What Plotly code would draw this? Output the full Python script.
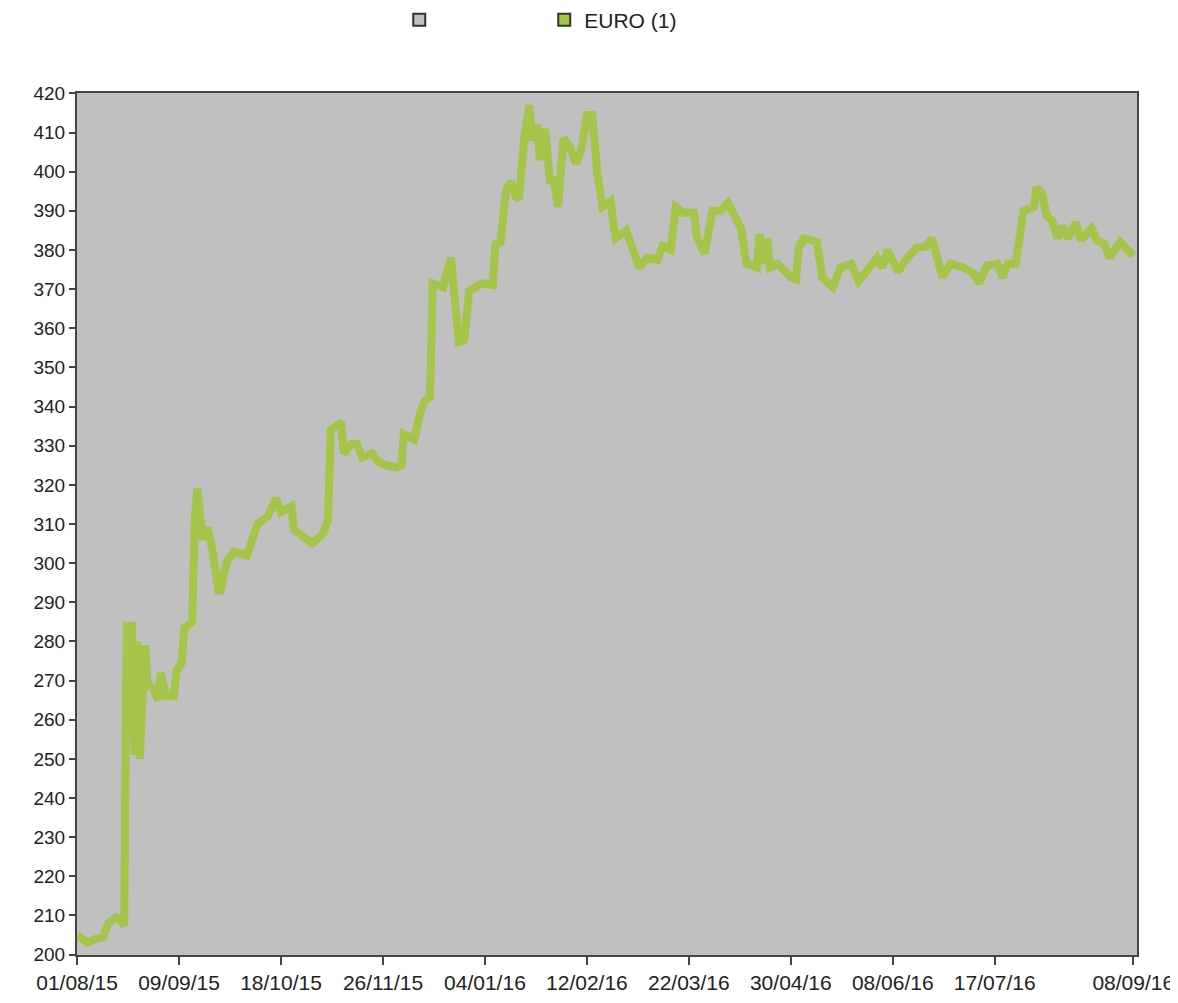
import pandas as pd
import plotly.graph_objects as go

start_date = "2015-08-01"

# days since 01/08/15
day_offset = [0, 4, 7, 10, 12, 15, 16, 18, 19, 21, 22, 23, 24, 26, 27, 29, 31, 32, 34, 37,
              38, 40, 41, 44, 45, 46, 48, 50, 52, 54, 55, 57, 60, 65, 67, 69, 73, 76, 78, 82,
              83, 87, 90, 94, 96, 97, 101, 102, 105, 107, 109, 113, 115, 118, 122, 124, 125, 129, 131, 133,
              135, 136, 140, 143, 146, 148, 150, 155, 159, 160, 162, 164, 166, 168, 169, 171, 173, 174, 176, 177,
              179, 181, 182, 184, 186, 188, 191, 193, 195, 197, 199, 201, 204, 206, 210, 215, 218, 222, 224, 227,
              229, 232, 236, 237, 240, 243, 246, 249, 252, 254, 256, 260, 261, 263, 264, 265, 268, 273, 275, 276,
              278, 283, 285, 289, 292, 296, 299, 303, 306, 308, 310, 314, 317, 321, 325, 327, 330, 331, 334, 339,
              343, 345, 348, 352, 354, 356, 359, 361, 362, 366, 367, 369, 371, 373, 375, 377, 379, 382, 384, 388,
              390, 393, 395, 399, 401, 404]

euro = [205, 203, 204, 204.5, 208, 209.5, 209, 207.5, 284, 284, 251, 280, 250, 279, 269, 268, 265, 272, 266, 266,
        272.5, 274.5, 283.5, 285, 311, 319, 306, 309, 302.5, 293, 293, 300, 303, 302, 306, 310, 312, 316.5, 313, 314.5,
        308.5, 306.5, 305, 307.5, 311, 334, 336, 328, 330.5, 330.5, 327, 328, 326, 325, 324.5, 325, 333, 331.5, 338, 341.5,
        342.5, 371.5, 370.5, 378, 356.5, 357, 369.5, 371.5, 371, 381.5, 382, 395, 397.5, 393.5, 393, 408.5, 417, 408, 412, 403,
        411, 397, 398.5, 391, 408.5, 407, 402, 406, 414.5, 414.5, 399.5, 391, 392.5, 383, 385, 375.5, 378, 377.5, 381, 380,
        391, 389.5, 389.5, 383.5, 379, 390, 390, 392, 387.5, 385.5, 376.5, 375.5, 384, 376.5, 383, 375.5, 376.5, 373, 372.5, 380.5,
        383, 382, 373, 370.5, 375.5, 376.5, 372, 375.5, 378, 375.5, 380, 374.5, 377.5, 380.5, 381, 383, 376.5, 373, 376.5, 375.5,
        374, 371.5, 376, 376.5, 373, 376.5, 376.5, 384, 390, 391, 396, 394.5, 388.5, 387.5, 383, 386, 383, 387, 382.5, 385.5,
        382.5, 381.5, 378, 382, 380.5, 378.5]

x_tick_dates = ["2015-08-01", "2015-09-09", "2015-10-18", "2015-11-26", "2016-01-04", "2016-02-12",
                "2016-03-22", "2016-04-30", "2016-06-08", "2016-07-17", "2016-09-08"]
x_tick_labels = ["01/08/15", "09/09/15", "18/10/15", "26/11/15", "04/01/16", "12/02/16",
                 "22/03/16", "30/04/16", "08/06/16", "17/07/16", "08/09/16"]
y_ticks = list(range(200, 421, 10))

dates = pd.Timestamp(start_date) + pd.to_timedelta(day_offset, unit="D")

GREEN = "#A4C44A"
GRAY = "#C0C0C0"
FONT = "Liberation Sans, Arial, sans-serif"

fig = go.Figure()
fig.add_trace(go.Bar(x=[None], y=[None], name=" ", marker=dict(color=GRAY, line=dict(color="#333333", width=2)),
                     showlegend=True))
fig.add_trace(go.Bar(x=[None], y=[None], name="EURO (1)", marker=dict(color=GREEN, line=dict(color="#333333", width=2)),
                     showlegend=True))
fig.add_trace(go.Scatter(x=dates, y=euro, mode="lines", line=dict(color=GREEN, width=8), showlegend=False,
                         name="EURO (1)"))

fig.update_layout(
    width=1170, height=995,
    margin=dict(l=69, r=41, t=85, b=48, autoexpand=False),
    paper_bgcolor="white",
    plot_bgcolor=GRAY,
    font=dict(family=FONT, size=19, color="#222222"),
    legend=dict(orientation="h", x=0.304, xanchor="left",
                y=1.0847, yanchor="middle",
                entrywidth=100, entrywidthmode="pixels", font=dict(size=21), bgcolor="rgba(0,0,0,0)"),
    showlegend=True,
)
fig.update_xaxes(
    type="date",
    range=["2015-07-31 23:00", "2016-09-09 10:00"],
    tickvals=x_tick_dates, ticktext=x_tick_labels,
    showgrid=False, zeroline=False, automargin=False,
    showline=True, linecolor="#444444", linewidth=2, mirror=True,
    ticks="outside", ticklen=8, tickwidth=2, tickcolor="#444444",
    tickfont=dict(size=21),
)
fig.update_yaxes(
    range=[199.9, 420.1],
    tickvals=y_ticks, ticktext=[str(v) for v in y_ticks],
    showgrid=False, zeroline=False, automargin=False,
    showline=True, linecolor="#444444", linewidth=2, mirror=True,
    ticks="outside", ticklen=6, tickwidth=2, tickcolor="#444444",
)

fig.write_html("out.html")
